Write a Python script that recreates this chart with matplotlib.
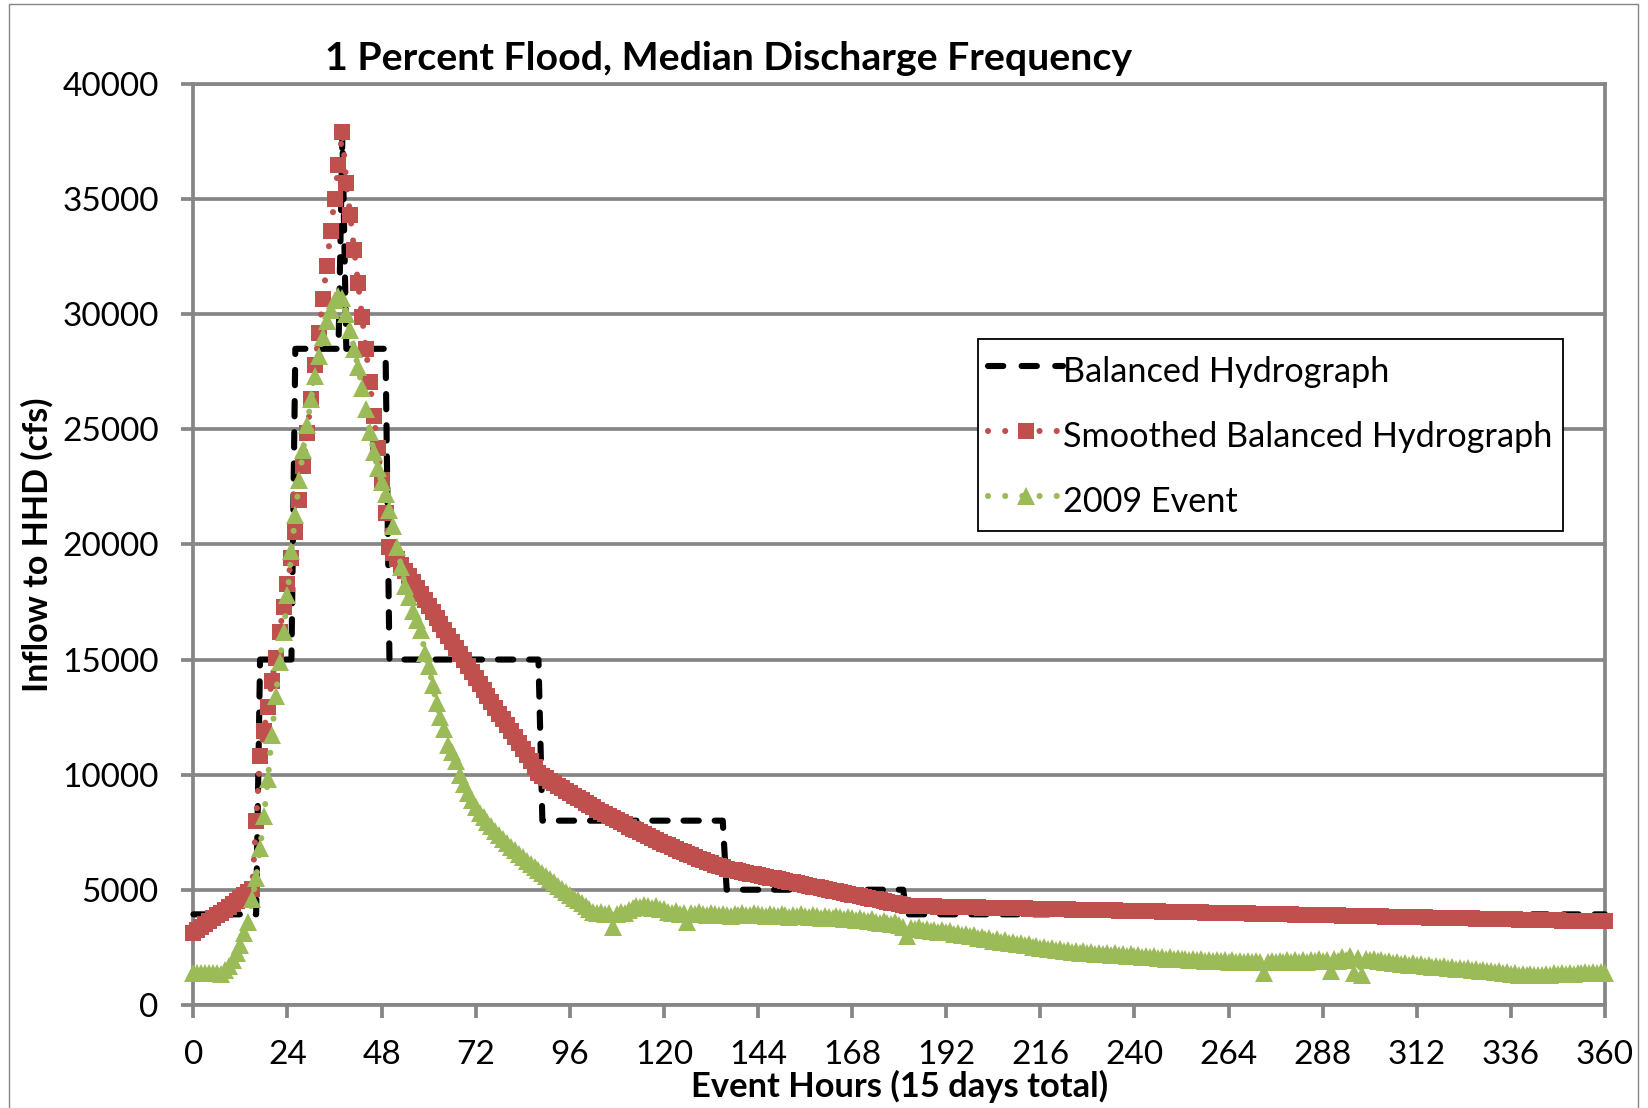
import numpy as np
import matplotlib
matplotlib.use("Agg")
import matplotlib.pyplot as plt
from matplotlib.lines import Line2D
from matplotlib.patches import Rectangle

# ---------------- data ----------------
title = "1 Percent Flood, Median Discharge Frequency"
x_label = "Event Hours (15 days total)"
y_label = "Inflow to HHD (cfs)"
series_names = ["Balanced Hydrograph", "Smoothed Balanced Hydrograph", "2009 Event"]
x_ticks = list(range(0, 361, 24))
y_ticks = list(range(0, 40001, 5000))

hours = np.arange(0, 361)

# Balanced hydrograph: step levels (cfs) and how many hourly values each level holds
balanced_levels = [3930, 15000, 28500, 37800, 28500, 15000, 8000, 5000, 3930]
balanced_counts = [17, 9, 12, 1, 11, 39, 47, 46, 179]

smoothed = [
    3100, 3230, 3360, 3490, 3620, 3750, 3880, 4010, 4140, 4270, 4400, 4530, 4660, 4790, 4920, 5050,
    8000, 10800, 11900, 12950, 14050, 15050, 16200, 17300, 18300, 19400, 20550, 21950, 23400, 24850,
    26300, 27800, 29200, 30650, 32100, 33600, 35000, 36500, 37900,
    35700, 34300, 32800, 31350, 29900, 28500, 27050, 25600, 24200, 22800, 21350, 19900,
    19640, 19380, 19120, 18860, 18610, 18350, 18090, 17830, 17570, 17310,
    17050, 16790, 16540, 16280, 16020, 15760, 15500, 15240, 14980, 14720,
    14470, 14210, 13950, 13690, 13430, 13170, 12910, 12650, 12400, 12140,
    11880, 11620, 11360, 11100, 10840, 10580, 10320, 10060,
    9947, 9835, 9724, 9615, 9506, 9399, 9293, 9188, 9084, 8981,
    8879, 8778, 8679, 8581, 8483, 8387, 8292, 8199, 8106, 8014,
    7924, 7835, 7746, 7659, 7573, 7489, 7405, 7322, 7241, 7161,
    7082, 7004, 6927, 6851, 6776, 6703, 6630, 6559, 6489, 6420,
    6352, 6285, 6220, 6155, 6092, 6030, 5969, 5909,
    5874, 5839, 5804, 5769, 5734, 5699, 5664, 5629, 5594, 5559,
    5524, 5489, 5454, 5419, 5384, 5349, 5314, 5279, 5244, 5209,
    5174, 5139, 5104, 5069, 5034, 4999, 4964, 4929, 4894, 4859,
    4824, 4789, 4754, 4719, 4684, 4649, 4614, 4579, 4544, 4509,
    4474, 4439, 4404, 4369, 4334, 4300,
    4296, 4292, 4289, 4285, 4281, 4277, 4273, 4269, 4266, 4262,
    4258, 4254, 4250, 4247, 4243, 4239, 4235, 4231, 4227, 4224,
    4220, 4216, 4212, 4208, 4205, 4201, 4197, 4193, 4189, 4185,
    4182, 4178, 4174, 4170, 4166, 4162, 4159, 4155, 4151, 4147,
    4143, 4140, 4136, 4132, 4128, 4124, 4120, 4117, 4113, 4109,
    4105, 4101, 4098, 4094, 4090, 4086, 4082, 4078, 4075, 4071,
    4067, 4063, 4059, 4055, 4052, 4048, 4044, 4040, 4036, 4033,
    4029, 4025, 4021, 4017, 4013, 4010, 4006, 4002, 3998, 3994,
    3991, 3987, 3983, 3979, 3975, 3971, 3968, 3964, 3960, 3956,
    3952, 3949, 3945, 3941, 3937, 3933, 3929, 3926, 3922, 3918,
    3914, 3910, 3907, 3903, 3899, 3895, 3891, 3887, 3884, 3880,
    3876, 3872, 3868, 3865, 3861, 3857, 3853, 3849, 3845, 3842,
    3838, 3834, 3830, 3826, 3823, 3819, 3815, 3811, 3807, 3803,
    3800, 3796, 3792, 3788, 3784, 3780, 3777, 3773, 3769, 3765,
    3761, 3758, 3754, 3750, 3746, 3742, 3738, 3735, 3731, 3727,
    3723, 3719, 3716, 3712, 3708, 3704, 3700, 3696, 3693, 3689,
    3685, 3681, 3677, 3674, 3670, 3666, 3662, 3658, 3654, 3651,
    3647, 3643, 3639, 3635, 3632, 3628, 3624, 3620,
]

event_2009 = [
    1400, 1390, 1390, 1380, 1370, 1380, 1360, 1350,
    1500, 1700, 1950, 2250, 2600, 3100, 3600, 4600, 5500, 6800, 8200, 9800,
    11700, 13400, 14900, 16200, 17800, 19700, 21300, 22800, 24100, 25200,
    26300, 27300, 28200, 29000, 29700, 30200, 30600, 30800, 30700,
    30000, 29300, 28500, 27700, 26800, 25900, 24900, 24000, 23300, 22700, 22200,
    21500, 20800, 19900, 19000, 18200, 17700, 17100, 16700, 16300, 15300, 14700,
    13900, 13100, 12500, 12000, 11300, 11000, 10600, 10000, 9600, 9200,
    8900, 8600, 8350, 8150, 7950, 7750, 7550, 7380, 7200, 7030,
    6870, 6710, 6550, 6400, 6250, 6110, 5980, 5850, 5730, 5600,
    5460, 5320, 5180, 5040, 4900, 4780, 4660, 4550, 4430, 4300, 4170, 4050,
    3980, 4020, 3950, 4010, 3400, 3960, 4030, 3990,
    4120, 4200, 4300, 4250, 4350, 4280, 4220, 4300, 4180, 4150,
    4050, 3980, 4060, 3950, 4010, 3600, 3970, 3940, 4020, 3960,
    3900, 3990, 3930, 3880, 3960, 3910, 3850, 3940, 3900, 3970,
    3920, 3880, 3990, 3940, 3900, 3860, 3950, 3910, 3870, 3930,
    3880, 3820, 3900, 3860, 3930, 3870, 3810, 3890, 3850, 3790,
    3870, 3830, 3780, 3850, 3800, 3740, 3820, 3760, 3700, 3770,
    3690, 3650, 3720, 3600, 3560, 3640, 3540, 3500, 3580, 3450,
    3400, 3000,
    3350, 3290, 3380, 3250, 3310, 3200, 3270, 3180, 3240, 3150,
    3190, 3080, 3140, 3020, 3090, 2980, 3030, 2900, 2960, 2860,
    2900, 2790, 2850, 2740, 2800, 2690, 2740, 2620, 2680, 2580,
    2630, 2520, 2570, 2480, 2530, 2420, 2470, 2380, 2430, 2340,
    2390, 2300, 2350, 2270, 2320, 2240, 2290, 2210, 2260, 2200,
    2250, 2170, 2230, 2150, 2210, 2130, 2190, 2110, 2160, 2090,
    2140, 2060, 2120, 2040, 2090, 2010, 2060, 1990, 2040, 1970,
    2010, 1950, 1990, 1930, 1980, 1910, 1960, 1900, 1950, 1890,
    1940, 1870, 1930, 1860, 1920, 1850, 1900, 1840, 1890, 1850,
    1380, 1870, 1920, 1850, 1900, 1860, 1930, 1870, 1950, 1880,
    1940, 1870, 1960, 1890, 2000, 1900, 1960, 1450, 1990, 1910,
    2060, 1950, 2100, 1360, 2050, 1300, 2010, 1940, 1980, 1900,
    1950, 1860, 1900, 1820, 1870, 1790, 1830, 1750, 1800, 1720,
    1760, 1690, 1730, 1660, 1700, 1630, 1670, 1600, 1640, 1570,
    1610, 1540, 1580, 1510, 1550, 1480, 1520, 1450, 1490, 1420,
    1450, 1380, 1410, 1340, 1370, 1310, 1340, 1290, 1320, 1280,
    1310, 1290, 1340, 1300, 1360, 1320, 1370, 1340, 1390, 1350,
    1400, 1360, 1410, 1370, 1420, 1380, 1430, 1400,
]

balanced = np.repeat(balanced_levels, balanced_counts)

# ---------------- style ----------------
plt.rcParams['font.family'] = ['Lato', 'DejaVu Sans']
GRID = '#868686'
RED = '#C0504D'
GREEN = '#9BBB59'

fig = plt.figure(figsize=(16.48, 11.08), dpi=100)
fig.patch.set_facecolor('white')
ax = fig.add_axes([0.11735, 0.09314, 0.85655, 0.83096])

ax.set_xlim(0, 360)
ax.set_ylim(0, 40000)
ax.set_xticks(x_ticks)
ax.set_yticks(y_ticks)
ax.set_xticklabels([str(t) for t in x_ticks])
ax.set_yticklabels([str(t) for t in y_ticks])
ax.yaxis.grid(True, color=GRID, lw=2.7)
ax.set_axisbelow(True)
for s in ax.spines.values():
    s.set_color(GRID)
    s.set_linewidth(2.7)
ax.tick_params(axis='both', direction='out', length=9, width=2.7, color=GRID,
               labelsize=24, pad=16)

lw = 4.4
l1, = ax.plot(hours, balanced, color='black', lw=lw, linestyle=(0, (2.5, 2.6)),
              dash_capstyle='round', solid_capstyle='round', clip_on=False, zorder=3)
l2, = ax.plot(hours, smoothed, color=RED, lw=lw, linestyle=(0, (0.01, 2.8)),
              dash_capstyle='round', marker='s', ms=12, mec=RED, mfc=RED, mew=0,
              clip_on=False, zorder=4)
l3, = ax.plot(hours, event_2009, color=GREEN, lw=lw, linestyle=(0, (0.01, 2.8)),
              dash_capstyle='round', marker='^', ms=13.5, mec=GREEN, mfc=GREEN, mew=0,
              clip_on=False, zorder=5)

# legend proxy for the dashed line so it ends with a short dot like the original
h1 = Line2D([], [], color='black', lw=lw, linestyle=(0, (2.5, 3.0)),
            dash_capstyle='round')

leg = ax.legend([h1, l2, l3], series_names, loc='upper left',
                bbox_to_anchor=(977.5 / 1648, 1 - 339.5 / 1108),
                bbox_transform=fig.transFigure, frameon=True, fancybox=False,
                edgecolor='black', framealpha=1, fontsize=24.7, numpoints=1,
                handlelength=2.2, handletextpad=0.0, borderpad=0.3,
                handleheight=1.46, labelspacing=0.70, borderaxespad=0)
leg.get_frame().set_linewidth(1.3)
leg.set_zorder(10)

fig.text(728.6 / 1648, 1 - 58.5 / 1108, title, ha='center', va='center',
         fontsize=28.3, fontweight='bold')
fig.text(900 / 1648, 1 - 1086 / 1108, x_label, ha='center', va='center',
         fontsize=24.8, fontweight='bold')
fig.text(36.8 / 1648, 1 - 544.5 / 1108, y_label, ha='center', va='center',
         rotation=90, fontsize=24.5, fontweight='bold')

fig.patches.append(Rectangle((9 / 1648, -0.05), (1638 - 9) / 1648, 1.05 - 4 / 1108,
                             transform=fig.transFigure, fill=False,
                             edgecolor=GRID, lw=1.0))

fig.savefig('out.png', dpi=100, facecolor='white')
